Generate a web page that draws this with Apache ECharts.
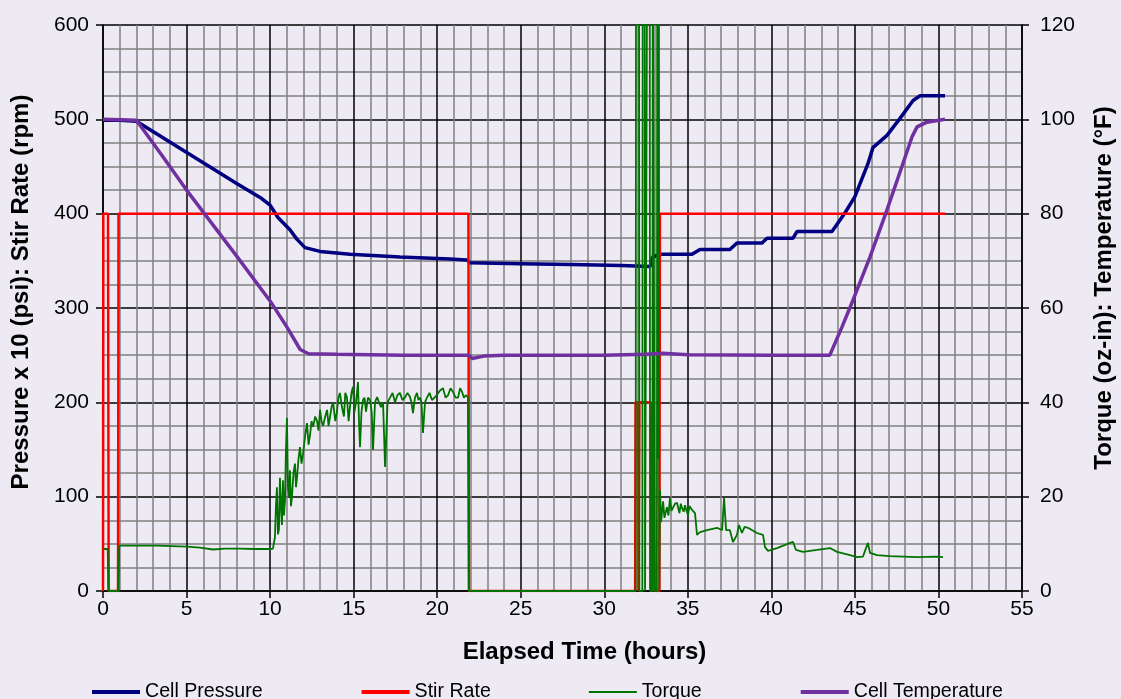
<!DOCTYPE html>
<html>
<head>
<meta charset="utf-8">
<script src="https://cdn.jsdelivr.net/npm/echarts@6/dist/echarts.min.js"></script>
<style>
  html, body { margin: 0; padding: 0; background: #EEEAF4; }
  #chart { width: 1121px; height: 699px; }
</style>
</head>
<body>
<div id="chart"></div>
<script>
// Elapsed time in hours vs. value; pressure and stir rate on the left axis,
// torque and temperature on the right axis.
const pressureData = [
  [0, 499], [1, 499], [2, 498], [4, 476], [6, 454], [8, 432], [9.5, 416], [10, 409],
  [10.47, 396], [11.19, 383], [11.6, 373], [12.09, 364], [12.99, 360], [14.78, 357],
  [17.77, 354], [20.77, 352], [21.78, 351], [21.96, 348], [25, 347], [28, 346], [31, 345],
  [32.74, 344], [32.9, 354], [33.34, 357], [35.25, 357], [35.73, 362], [37.52, 362],
  [37.94, 369], [39.44, 369], [39.74, 374], [41.3, 374], [41.53, 381], [43.63, 381],
  [44.41, 401], [45.0, 418], [45.78, 453], [46.08, 470], [46.92, 483], [47.7, 501],
  [48.48, 520], [48.9, 525], [50.39, 525]
];

const stirRateData = [
  [0, 0], [0.02, 400], [0.3, 400], [0.34, 0], [0.9, 0], [0.93, 400], [21.87, 400], [21.9, 0],
  [31.85, 0], [31.87, 200], [32.03, 200], [32.05, 0], [32.08, 0], [32.1, 200], [32.8, 200],
  [32.82, 0], [32.86, 0], [32.88, 200], [32.98, 200], [33.0, 0], [33.3, 0], [33.33, 400],
  [50.4, 400]
];

const torqueData = [
  [0, 8.9], [0.28, 8.9], [0.33, 0], [0.93, 0], [0.97, 9.6], [3.23, 9.6], [5.03, 9.4],
  [5.8, 9.2], [6.58, 8.8], [7.3, 9.0], [8.2, 9.0], [9.1, 8.9], [9.99, 8.9], [10.17, 9.0],
  [10.29, 11.4], [10.35, 18], [10.41, 22], [10.47, 12], [10.53, 13], [10.59, 24], [10.65, 18],
  [10.71, 14], [10.77, 23.5], [10.83, 16], [10.89, 19], [10.95, 30], [11.01, 36.7],
  [11.07, 22], [11.13, 20], [11.19, 25.6], [11.25, 18], [11.31, 20], [11.4, 25], [11.49, 27],
  [11.55, 22], [11.61, 24], [11.7, 28], [11.79, 30.5], [11.88, 27], [11.97, 29], [12.1, 33],
  [12.21, 35.6], [12.3, 31], [12.39, 33], [12.48, 36], [12.57, 34.8], [12.7, 37], [12.81, 36],
  [12.9, 34], [12.99, 38.4], [13.08, 36], [13.17, 35], [13.3, 37], [13.41, 38.4], [13.5, 35],
  [13.59, 37], [13.68, 39], [13.77, 40], [13.9, 36], [14.0, 38], [14.09, 41], [14.18, 42],
  [14.3, 39], [14.42, 37], [14.5, 42], [14.6, 41], [14.7, 36], [14.78, 39], [14.87, 42],
  [14.96, 43.3], [15.05, 38], [15.14, 40], [15.2, 42], [15.26, 44.3], [15.32, 36],
  [15.38, 30.5], [15.47, 38], [15.56, 40.5], [15.65, 41], [15.74, 38], [15.86, 41],
  [15.98, 40.5], [16.08, 38], [16.16, 29.9], [16.28, 40], [16.4, 41.1], [16.52, 40],
  [16.64, 39], [16.76, 40], [16.88, 26.3], [17.03, 40], [17.18, 41], [17.33, 42],
  [17.48, 40], [17.62, 41.5], [17.77, 42], [17.92, 40.5], [18.07, 41], [18.22, 42],
  [18.37, 41.2], [18.46, 40], [18.55, 37.7], [18.67, 41], [18.79, 42], [18.88, 40.5],
  [18.97, 41], [19.06, 40], [19.15, 33.5], [19.27, 40], [19.39, 41], [19.54, 42],
  [19.69, 40.5], [19.84, 41], [19.99, 41.6], [20.17, 42.5], [20.35, 43], [20.5, 41],
  [20.65, 41.5], [20.8, 43], [20.95, 42.2], [21.1, 41], [21.25, 41], [21.37, 43],
  [21.49, 42.2], [21.6, 41], [21.72, 41.5], [21.84, 41.1], [21.9, 0], [31.88, 0],
  [31.9, 140], [32.08, 140], [32.1, 0], [32.28, 0], [32.3, 140], [32.42, 140], [32.44, 0],
  [32.55, 0], [32.57, 140], [32.72, 140], [32.74, 0], [32.88, 0], [32.9, 140], [33.01, 140],
  [33.03, 0], [33.15, 0], [33.17, 140], [33.2, 28], [33.27, 140], [33.29, 0], [33.31, 0],
  [33.34, 21.4], [33.4, 14.6], [33.52, 19], [33.6, 15.5], [33.75, 17.8], [33.84, 16],
  [33.93, 19.7], [34.02, 17], [34.11, 16.7], [34.23, 18.5], [34.35, 18.7], [34.5, 16.5],
  [34.58, 18.5], [34.65, 17.6], [34.75, 16.8], [34.83, 18.2], [34.92, 17], [35.01, 16.1],
  [35.1, 18], [35.25, 17.2], [35.43, 16.5], [35.55, 11.9], [35.73, 12.5], [36.15, 12.9],
  [36.75, 13.4], [37.05, 12.9], [37.17, 19.7], [37.29, 12.9], [37.52, 12.9], [37.7, 10.4],
  [37.94, 11.9], [38.06, 14], [38.24, 12.3], [38.4, 13.6], [38.6, 13.4], [39.14, 12.3],
  [39.5, 11.9], [39.62, 9.3], [39.8, 8.5], [40.34, 9.1], [41.12, 10.2], [41.3, 10.4],
  [41.47, 8.7], [41.89, 8.3], [42.73, 8.7], [43.51, 9.1], [43.93, 8.3], [44.71, 7.6],
  [45.13, 7.2], [45.48, 7.3], [45.78, 10.2], [45.9, 8.1], [46.32, 7.6], [47.1, 7.4],
  [48.72, 7.2], [49.91, 7.3], [50.27, 7.2]
];

const temperatureData = [
  [0, 100], [2, 99.8], [3.5, 92.5], [5, 85], [6.5, 78], [8, 71], [10, 61.5], [11, 56],
  [11.8, 51.2], [12.3, 50.3], [14, 50.2], [18, 50], [21.9, 50], [22.1, 49.3], [22.8, 49.8],
  [24, 50], [30, 50], [32.5, 50.2], [33.5, 50.4], [35, 50.1], [40, 50], [43.5, 50],
  [44.23, 56], [44.89, 61.7], [45.9, 70.8], [46.92, 80.8], [47.88, 90.7], [48.42, 96.3],
  [48.72, 98.4], [49.31, 99.4], [50.39, 100]
];

const FONT = '"Liberation Sans", Arial, sans-serif';
const axisText = { color: '#000', fontFamily: FONT, fontSize: 21 };
const titleText = { color: '#000', fontFamily: FONT, fontSize: 24, fontWeight: 'bold' };

const chart = echarts.init(document.getElementById('chart'), null, { renderer: 'canvas' });

chart.setOption({
  backgroundColor: '#EEEAF4',
  animation: false,
  grid: {
    left: 103, right: 99, top: 25, bottom: 108,
    containLabel: false,
    outerBoundsMode: 'none'
  },
  legend: {
    left: 85,
    top: 677,
    itemGap: 97,
    itemWidth: 48,
    itemHeight: 2,
    textStyle: { color: '#000', fontFamily: FONT, fontSize: 19.6 },
    data: [
      { name: 'Cell Pressure', lineStyle: { width: 4 } },
      { name: 'Stir Rate', lineStyle: { width: 4 } },
      { name: 'Torque', lineStyle: { width: 2 } },
      { name: 'Cell Temperature', lineStyle: { width: 4 } }
    ]
  },
  xAxis: {
    type: 'value',
    min: 0,
    max: 55,
    interval: 5,
    name: 'Elapsed Time (hours)',
    nameLocation: 'middle',
    nameGap: 49,
    nameTextStyle: { ...titleText, padding: [0, 0, 0, 44] },
    axisLine: { show: true, lineStyle: { color: '#000', width: 1.5 } },
    axisTick: { show: true, inside: false, length: 7, lineStyle: { color: '#000', width: 1.5 } },
    axisLabel: { ...axisText, margin: 8 },
    splitLine: { show: true, lineStyle: { color: '#000', width: 1.5 } },
    minorTick: { show: true, splitNumber: 5, length: 0, lineStyle: { opacity: 0 } },
    minorSplitLine: { show: true, lineStyle: { color: '#808080', width: 1.5 } }
  },
  yAxis: [
    {
      type: 'value',
      min: 0,
      max: 600,
      interval: 100,
      name: 'Pressure x 10 (psi): Stir Rate (rpm)',
      nameLocation: 'middle',
      nameGap: 70,
      nameTextStyle: { ...titleText, padding: [0, 0, 0, 32] },
      axisLine: { show: true, lineStyle: { color: '#000', width: 1.5 } },
      axisTick: { show: true, inside: false, length: 7, lineStyle: { color: '#000', width: 1.5 } },
      axisLabel: { ...axisText, margin: 14 },
      splitLine: { show: true, lineStyle: { color: '#000', width: 1.5 } },
      minorTick: { show: true, splitNumber: 4, length: 0, lineStyle: { opacity: 0 } },
      minorSplitLine: { show: true, lineStyle: { color: '#808080', width: 1.5 } }
    },
    {
      type: 'value',
      position: 'right',
      min: 0,
      max: 120,
      interval: 20,
      name: 'Torque (oz-in): Temperature (°F)',
      nameLocation: 'middle',
      nameGap: 70,
      nameTextStyle: { ...titleText, padding: [0, 0, 0, 40] },
      axisLine: { show: true, lineStyle: { color: '#000', width: 1.5 } },
      axisTick: { show: true, inside: false, length: 7, lineStyle: { color: '#000', width: 1.5 } },
      axisLabel: { ...axisText, margin: 18 },
      splitLine: { show: false }
    }
  ],
  series: [
    {
      name: 'Cell Pressure',
      type: 'line',
      yAxisIndex: 0,
      data: pressureData,
      symbol: 'none',
      clip: true,
      lineStyle: { color: '#000080', width: 3.5 },
      itemStyle: { color: '#000080' }
    },
    {
      name: 'Stir Rate',
      type: 'line',
      yAxisIndex: 0,
      data: stirRateData,
      symbol: 'none',
      clip: true,
      lineStyle: { color: '#FF0000', width: 2.5 },
      itemStyle: { color: '#FF0000' }
    },
    {
      name: 'Torque',
      type: 'line',
      yAxisIndex: 1,
      data: torqueData,
      symbol: 'none',
      clip: true,
      lineStyle: { color: '#007400', width: 1.8 },
      itemStyle: { color: '#007400' }
    },
    {
      name: 'Cell Temperature',
      type: 'line',
      yAxisIndex: 1,
      data: temperatureData,
      symbol: 'none',
      clip: true,
      lineStyle: { color: '#7030A0', width: 3.5 },
      itemStyle: { color: '#7030A0' }
    }
  ]
});
</script>
</body>
</html>
